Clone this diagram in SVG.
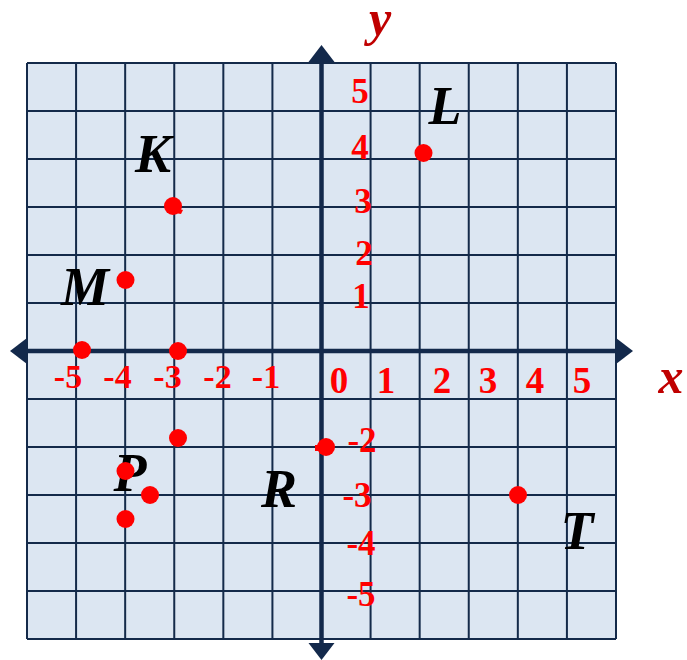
<svg xmlns="http://www.w3.org/2000/svg" width="687" height="660" viewBox="0 0 687 660">
<style>
.grid{stroke:#142a4a;stroke-width:2;fill:none}
.axis{stroke:#13294b;stroke-width:4.5;fill:none}
.head{fill:#13294b}
.num{font-family:"Liberation Serif","Times New Roman",serif;font-weight:bold;fill:#ff0000;text-anchor:middle}
.nx{font-size:37px}
.nneg{font-size:34px}
.ny{font-size:35px}
.lab{font-family:"Liberation Serif","Times New Roman",serif;font-weight:bold;font-style:italic;font-size:54px;fill:#000;text-anchor:middle}
.ax{font-family:"Liberation Serif","Times New Roman",serif;font-weight:bold;font-style:italic;font-size:50px;fill:#c00000;text-anchor:middle}
.dot{fill:#ff0000}
</style>
<rect x="0" y="0" width="687" height="660" fill="#ffffff"/>
<g id="grid">
<rect x="27" y="63" width="589" height="576" fill="#dce6f2"/>
<path class="grid" d="M27 63V639M76.08 63V639M125.17 63V639M174.25 63V639M223.33 63V639M272.42 63V639M370.58 63V639M419.67 63V639M468.75 63V639M517.83 63V639M566.92 63V639M616 63V639
M27 63H616M27 111H616M27 159H616M27 207H616M27 255H616M27 303H616M27 399H616M27 447H616M27 495H616M27 543H616M27 591H616M27 639H616"/>
</g>
<g id="connectors">
<path class="axis" d="M26 351H617"/>
<path class="axis" d="M321.5 61V644"/>
<polygon class="head" points="10,351 27,338 27,364"/>
<polygon class="head" points="633,351 616,338 616,364"/>
<polygon class="head" points="321.5,45 308.5,62 334.5,62"/>
<polygon class="head" points="321.5,660 308.5,643 334.5,643"/>
</g>
<g id="x-labels">
<text class="num nneg" x="68" y="388">-5</text>
<text class="num nneg" x="117.5" y="388">-4</text>
<text class="num nneg" x="167.5" y="388">-3</text>
<text class="num nneg" x="217.5" y="388">-2</text>
<text class="num nneg" x="266" y="388">-1</text>
<text class="num nx" x="339" y="393">0</text>
<text class="num nx" x="386" y="393">1</text>
<text class="num nx" x="442" y="393">2</text>
<text class="num nx" x="488" y="393">3</text>
<text class="num nx" x="535" y="393">4</text>
<text class="num nx" x="582" y="393">5</text>
</g>
<g id="y-labels">
<text class="num ny" x="360" y="103">5</text>
<text class="num ny" x="360" y="159">4</text>
<text class="num ny" x="363" y="213">3</text>
<text class="num ny" x="364" y="265">2</text>
<text class="num ny" x="361" y="308">1</text>
<text class="num ny" x="362" y="452">-2</text>
<text class="num ny" x="357" y="507">-3</text>
<text class="num ny" x="361" y="555">-4</text>
<text class="num ny" x="361" y="606">-5</text>
</g>
<g id="axis-names">
<text class="ax" x="380" y="35">y</text>
<text class="ax" x="671" y="393">x</text>
</g>
<g id="node-K">
<text class="lab" x="153" y="172">K</text>
<circle class="dot" cx="173" cy="206" r="9"/>
<path class="dot" d="M176 208L183 210L181 214L175 213Z"/>
</g>
<g id="node-L">
<text class="lab" x="445" y="124">L</text>
<circle class="dot" cx="423.5" cy="153" r="9"/>
</g>
<g id="node-M">
<text class="lab" x="85" y="305">M</text>
<circle class="dot" cx="125.5" cy="280" r="9"/>
</g>
<g id="node-pt-5">
<circle class="dot" cx="82" cy="350" r="9"/>
</g>
<g id="node-pt-3">
<circle class="dot" cx="178" cy="351" r="9"/>
</g>
<g id="node-pt-3m2">
<circle class="dot" cx="178" cy="438" r="9"/>
</g>
<g id="node-P">
<text class="lab" x="130" y="491">P</text>
<circle class="dot" cx="125.5" cy="471" r="9"/>
<circle class="dot" cx="150" cy="495" r="9"/>
<circle class="dot" cx="125.5" cy="519" r="9"/>
</g>
<g id="node-R">
<text class="lab" x="279" y="507">R</text>
<circle class="dot" cx="326" cy="447" r="9"/>
<rect class="dot" x="315" y="445" width="6" height="6"/>
</g>
<g id="node-T">
<text class="lab" x="577" y="549">T</text>
<circle class="dot" cx="518" cy="495" r="9"/>
</g>
</svg>
